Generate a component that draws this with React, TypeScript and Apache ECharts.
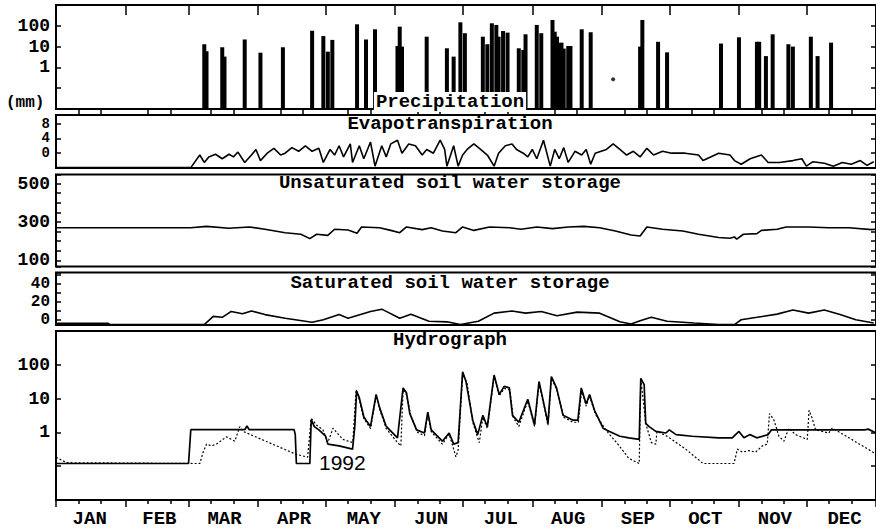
import React, { useEffect, useRef } from "react";
import * as echarts from "echarts";

// ---------- axis / category data ----------
const MONTHS = ["JAN", "FEB", "MAR", "APR", "MAY", "JUN", "JUL", "AUG", "SEP", "OCT", "NOV", "DEC"];
const MONTH_START = [0, 31, 59, 90, 120, 151, 181, 212, 243, 273, 304, 334];
const MONTH_LABEL_DAY = [15, 46, 75, 106, 137, 167, 198, 228, 259, 289, 320, 351];
const PRECIP_TICKS = [1, 10, 100];
const ET_TICKS = [0, 4, 8];
const UNSAT_TICKS = [100, 300, 500];
const SAT_TICKS = [0, 20, 40];
const HYDRO_TICKS = [1, 10, 100];
const TITLES = ["Precipitation", "Evapotranspiration", "Unsaturated soil water storage", "Saturated soil water storage", "Hydrograph"];

// ---------- series data: [day of year, value] ----------
const PRECIP: [number, number][] = [
  [66, 13], [67, 6], [74, 9.3], [75, 3.3], [84, 22], [91, 5.1], [101, 9.3], [114, 58], [119, 32], [121, 5.7],
  [123, 21], [134, 118], [138, 22], [142, 68], [152, 10.7], [153, 91], [154, 10], [165, 30], [174, 8.3], [177, 3.3],
  [180, 147], [182, 44], [190, 30], [192, 13], [194, 132], [196, 110], [197, 30], [199, 56], [201, 47], [206, 8.3],
  [208, 6.9], [209, 39], [214, 110], [216, 44], [221, 191], [222, 52], [223, 30], [224, 15], [225, 15.5], [226, 8],
  [228, 10.7], [229, 10.7], [234, 68], [238, 49], [260, 10], [261, 191], [268, 17], [272, 5.3], [296, 14], [304, 28],
  [312, 17], [313, 17], [316, 3.5], [319, 39], [326, 13], [328, 10], [336, 30], [339, 3.5], [345, 15.5],
];
const PRECIP_TRACE: [number, number][] = [[248, 0.27]];

const ET: [number, number][] = [
  [0, -3.9], [60, -3.9], [64, -0.5], [66, -2.5], [68, -1], [71, -0.3], [74, -1.5], [77, -0.3], [79, -1], [81, 0.3],
  [84, -2.5], [87, -0.5], [89, 1], [91, -2], [94, 0], [97, 1.3], [100, -0.5], [102, 0], [105, 1.5], [108, 0.5],
  [111, 2], [114, 0.5], [117, 1.3], [119, -2.5], [122, 1], [124, -0.5], [126, 2], [128, -1], [131, 2.5], [132, -2.5],
  [135, 2], [137, -1.5], [140, 3], [142, -3.5], [145, 2], [147, -1], [149, 2.5], [152, 3.5], [154, 0], [157, 2.5],
  [160, 2], [163, -0.5], [165, 1], [168, 0], [171, 3.5], [173, 1], [174, -3.5], [177, 2], [179, -3.5], [181, -0.5],
  [183, 1], [186, 2.5], [189, 1], [192, -0.5], [195, -3.5], [197, 0], [200, 2], [203, 2.5], [205, 1], [208, 0],
  [210, -1], [212, 1], [214, -1.5], [217, 3.5], [220, -3.5], [222, 1], [224, -1.5], [226, 1.5], [228, -2.5], [231, 0.5],
  [234, -0.5], [236, 1], [238, -3], [240, 0], [245, 1], [248, 2.5], [251, 1], [254, -0.5], [257, 0.5], [260, -1],
  [263, 1.3], [266, -0.5], [270, 0.5], [274, 0], [280, 0], [286, -0.5], [288, -2], [295, 0], [300, -0.5], [302, -2],
  [305, -3], [309, -1.5], [314, -0.5], [317, -2.5], [322, -2.5], [328, -2], [332, -1.5], [334, -3.5], [337, -2.3], [342, -2.7],
  [346, -3.5], [350, -2.5], [354, -3], [358, -2], [361, -3.3], [364, -2.3],
];

const UNSAT: [number, number][] = [
  [0, 270], [60, 270], [67, 277], [77, 267], [86, 274], [93, 262], [102, 244], [109, 236], [113, 213], [116, 236],
  [121, 230], [124, 262], [130, 258], [134, 241], [136, 274], [144, 270], [149, 256], [153, 244], [156, 274], [163, 260],
  [167, 270], [172, 253], [178, 244], [181, 274], [186, 256], [193, 274], [202, 270], [207, 262], [214, 274], [221, 265],
  [228, 274], [235, 277], [242, 270], [249, 253], [256, 232], [260, 227], [263, 274], [270, 262], [279, 253], [286, 236],
  [295, 219], [300, 215], [302, 222], [303, 210], [306, 236], [312, 239], [314, 256], [321, 262], [325, 274], [335, 274],
  [344, 270], [353, 270], [363, 260], [365, 262],
];

const SAT: [number, number][] = [
  [0, -3.5], [23, -3.5], [24, -5], [66, -5], [70, 4], [74, 3], [78, 9.5], [83, 7], [87, 10], [93, 6],
  [102, 2], [114, -2.5], [119, 0.3], [126, 6], [130, 2], [140, 9.5], [145, 12], [153, 2], [158, 6.5], [166, -1.4],
  [174, -2], [180, -5], [188, -1.4], [195, 7.6], [203, 10], [209, 7.6], [216, 9.5], [223, 4.7], [232, 8.7], [242, 7.6],
  [251, -2], [256, -4.4], [260, -0.7], [265, 3], [272, -1.4], [284, -3.3], [295, -5], [302, -5], [305, 0.3], [312, 3],
  [321, 6.5], [328, 11], [335, 7.6], [342, 11], [349, 6], [356, 0.3], [364, -3.3],
];

const Q_SIM: [number, number][] = [
  [0, 0.12], [59, 0.12], [60, 1.2], [84, 1.2], [85, 1.55], [86, 1.2], [106, 1.2], [106.5, 0.86], [107, 0.12], [113, 0.12],
  [113.6, 2.4], [115, 1.48], [117, 1.19], [120, 0.77], [121, 0.45], [126, 0.4], [132, 0.32], [133, 1.48], [133.8, 16.6], [135, 10.7],
  [137, 2.9], [138, 2.3], [140, 1.5], [142.5, 13.3], [144, 5.5], [147, 1.5], [152, 0.69], [154.5, 20.7], [156, 14.9], [157.5, 3.6],
  [160.5, 1.19], [164, 0.96], [165.5, 4.0], [167, 1.19], [172, 0.55], [175, 0.96], [177, 0.45], [179, 0.5], [181, 62], [182.5, 32],
  [185.5, 2.3], [187.7, 0.86], [190, 3.2], [192, 1.5], [195, 49.6], [197.3, 13.3], [199.5, 23], [201.8, 20.7], [203.2, 3.2], [206, 2],
  [210, 9.6], [213, 1.66], [215, 32], [217.5, 5.5], [219, 1.85], [220.5, 44.5], [222.8, 20.7], [225.7, 3.2], [230.2, 2.3], [232.3, 2.3],
  [233.8, 20.7], [236, 6.9], [237.5, 13.3], [239.7, 4.5], [243.5, 1.33], [246.4, 1.07], [251, 0.77], [255, 0.69], [259.6, 0.62], [260.3, 39.8],
  [261.8, 25.8], [262.5, 1.85], [264, 1.48], [267, 1.07], [271.5, 0.96], [273, 1.19], [276, 0.86], [283.2, 0.77], [295, 0.69], [301, 0.69],
  [304, 1.07], [306.2, 0.69], [308.9, 0.86], [311.9, 0.69], [317, 0.86], [318.5, 1.19], [360, 1.19], [361.5, 1.25], [365, 0.96],
];

const Q_OBS: [number, number][] = [
  [0, 0.185], [4.7, 0.127], [64, 0.12], [65.5, 0.26], [67, 0.45], [69.2, 0.4], [71.4, 0.45], [75.9, 0.74], [79.6, 0.55], [81.8, 1.48],
  [83.3, 1.07], [106.5, 0.23], [112, 0.185], [113.6, 2.6], [115.9, 1.66], [118.8, 1.19], [121, 0.5], [123.3, 1.33], [127.7, 0.62], [132.1, 0.5],
  [133.6, 18.5], [135, 9], [137, 2.6], [140, 1.3], [142.5, 12], [144, 5], [147, 1.3], [152, 0.5], [153.5, 0.4], [154.5, 18],
  [156, 13], [158, 3], [161, 1.0], [164, 0.8], [165.5, 3.6], [167, 1.05], [172, 0.45], [175, 0.9], [178, 0.19], [179, 0.3],
  [181, 55], [183, 28], [185.5, 2.0], [188.4, 0.5], [190, 2.8], [192, 1.3], [195, 45], [197.3, 12], [199.5, 20], [202, 18],
  [203.5, 2.8], [206, 1.5], [210, 8.5], [213, 1.5], [215, 28], [217.5, 5], [219, 1.6], [220.5, 40], [223, 18], [226, 2.8],
  [230, 2.0], [232.5, 2.0], [234, 18], [236, 6], [237.5, 12], [240, 3.6], [244.7, 1.19], [250.7, 0.4], [255, 0.17], [259.6, 0.12],
  [260.3, 39.8], [262.5, 1.85], [265, 0.5], [267, 0.45], [267.5, 1.07], [272, 0.77], [280.3, 0.32], [288, 0.12], [301.8, 0.12], [303.3, 0.32],
  [305.5, 0.26], [308.4, 0.29], [311.4, 0.26], [314.4, 0.4], [316.6, 0.45], [317.6, 3.6], [319.6, 2.3], [321.8, 0.77], [324, 0.55], [326.2, 1.33],
  [329.2, 0.86], [334.4, 0.62], [335.2, 4.5], [336.6, 2.6], [338.1, 1.19], [344, 0.96], [345.5, 1.33], [347, 1.19], [365, 0.23],
];

// ---------- helpers ----------
const FONT = "Liberation Mono";
const GRIDS = [
  { top: 5, height: 104 },
  { top: 115, height: 53 },
  { top: 174.5, height: 92 },
  { top: 272.5, height: 52.5 },
  { top: 331, height: 170 },
];
const TITLE_Y = [102, 124, 182.5, 283, 340];

function pick(v: number, ticks: number[]) {
  const t = ticks.find((k) => Math.abs(k - v) < 1e-6 * Math.max(1, Math.abs(k)));
  return t === undefined ? "" : String(t);
}
const log2axis = (v: number) => Math.log10(v) + 2;

export default function App() {
  const ref = useRef<HTMLDivElement>(null);
  useEffect(() => {
    if (!ref.current) return;
    const chart = echarts.init(ref.current, undefined, { renderer: "svg" });
    const DAYS = Array.from({ length: 366 }, (_, i) => String(i));
    const major = new Set<number>([...MONTH_START, 365]);
    const minor = new Set<number>();
    MONTH_START.forEach((m) => { minor.add(m + 10); minor.add(m + 20); });

    const labelStyle = { color: "#000", fontFamily: FONT, fontWeight: "bold" as const, fontSize: 18, lineHeight: 14, margin: 6 };
    const yCommon = (gi: number, pos: "left" | "right") => ({
      gridIndex: gi,
      position: pos,
      axisLine: { show: false },
      splitLine: { show: false },
      axisTick: { show: true, inside: true, length: 5, lineStyle: { color: "#000", width: 1.5 } },
    });
    const leftY: any[] = [
      { ...yCommon(0, "left"), type: "value", min: 0, max: 5, interval: 1,
        axisLabel: { ...labelStyle, formatter: (v: number) => pick(Math.pow(10, v - 2), PRECIP_TICKS) } },
      { ...yCommon(1, "left"), type: "value", min: -4, max: 10.3, interval: 4,
        axisLabel: { ...labelStyle, fontSize: 14, lineHeight: 13, formatter: (v: number) => pick(v, ET_TICKS) } },
      { ...yCommon(2, "left"), type: "value", min: 68, max: 547, splitNumber: 10,
        axisLabel: { ...labelStyle, formatter: (v: number) => pick(v, UNSAT_TICKS) } },
      { ...yCommon(3, "left"), type: "value", min: -5.5, max: 52.5, splitNumber: 6,
        axisLabel: { ...labelStyle, fontSize: 16, lineHeight: 13, formatter: (v: number) => pick(v, SAT_TICKS) } },
      { ...yCommon(4, "left"), type: "log", logBase: 10, min: 0.01, max: 1000,
        axisLabel: { ...labelStyle, formatter: (v: number) => pick(v, HYDRO_TICKS) } },
    ];
    const rightY = leftY.map((a, i) => ({ ...a, ...yCommon(i, "right"), axisLabel: { show: false } }));

    const valueX = GRIDS.map((_, i) => ({ gridIndex: i, type: "value", min: 0, max: 365, show: false }));
    const catX = (gi: number, pos: "top" | "bottom", set: Set<number>, len: number, inside: boolean, labels: boolean) => ({
      gridIndex: gi,
      type: "category",
      position: pos,
      boundaryGap: false,
      data: DAYS,
      axisLine: { show: false },
      splitLine: { show: false },
      axisTick: { show: true, inside, length: len, interval: (i: number) => set.has(i), lineStyle: { color: "#000", width: 1.5 } },
      axisLabel: labels
        ? {
            show: true,
            color: "#000",
            fontFamily: FONT,
            fontWeight: "bold",
            fontSize: 19,
            margin: 9,
            interval: (i: number) => MONTH_LABEL_DAY.includes(i),
            formatter: (v: string) => {
              const k = MONTH_LABEL_DAY.indexOf(Number(v));
              return k >= 0 ? MONTHS[k] : "";
            },
          }
        : { show: false },
    });

    const lineS = (name: string, gi: number, data: [number, number][], width: number, dashed = false) => ({
      name,
      type: "line",
      xAxisIndex: gi,
      yAxisIndex: gi,
      data,
      showSymbol: false,
      symbol: "none",
      clip: true,
      lineStyle: { color: "#000", width, type: dashed ? [2, 2] : "solid" },
      z: dashed ? 3 : 4,
    });

    const graphics: any[] = TITLES.map((t, i) => ({
      type: "text",
      x: 450,
      y: TITLE_Y[i],
      z: 100,
      style: {
        text: t,
        font: `bold 19px "${FONT}"`,
        fill: "#000",
        align: "center",
        verticalAlign: "middle",
        textAlign: "center",
        textVerticalAlign: "middle",
        backgroundColor: i === 0 ? "#fff" : undefined,
        padding: i === 0 ? [1, 2, 0, 2] : undefined,
      },
    }));
    graphics.push({
      type: "text", x: 6, y: 103, z: 100,
      style: { text: "(mm)", font: `bold 16px "${FONT}"`, fill: "#000", verticalAlign: "middle", textVerticalAlign: "middle" },
    });
    graphics.push({
      type: "text", x: 319, y: 462, z: 100,
      style: { text: "1992", font: `21px "Liberation Sans"`, fill: "#000", verticalAlign: "middle", textVerticalAlign: "middle" },
    });

    chart.setOption({
      animation: false,
      backgroundColor: "#fff",
      grid: GRIDS.map((g) => ({
        left: 56, width: 820, top: g.top, height: g.height,
        show: true, borderColor: "#000", borderWidth: 2, backgroundColor: "transparent",
      })),
      xAxis: [
        ...valueX,
        catX(0, "top", minor, 5, true, false),
        catX(0, "top", major, 10, true, false),
        catX(4, "bottom", minor, 4, false, true),
        catX(4, "bottom", major, 7, false, false),
      ],
      yAxis: [...leftY, ...rightY],
      graphic: graphics,
      series: [
        {
          name: "Precipitation",
          type: "bar",
          xAxisIndex: 0,
          yAxisIndex: 0,
          barWidth: 4,
          itemStyle: { color: "#000" },
          data: PRECIP.map(([d, v]) => [d, log2axis(v)]),
        },
        {
          name: "Precipitation trace",
          type: "scatter",
          xAxisIndex: 0,
          yAxisIndex: 0,
          symbolSize: 4,
          itemStyle: { color: "#000" },
          data: PRECIP_TRACE.map(([d, v]) => [d, log2axis(v)]),
        },
        lineS("Evapotranspiration", 1, ET, 1.6),
        lineS("Unsaturated soil water storage", 2, UNSAT, 1.6),
        lineS("Saturated soil water storage", 3, SAT, 1.6),
        lineS("Observed", 4, Q_OBS, 1.2, true),
        lineS("Simulated", 4, Q_SIM, 1.7),
      ],
    });
    return () => chart.dispose();
  }, []);
  return <div ref={ref} style={{ position: "fixed", left: 0, top: 0, width: 876, height: 528, background: "#fff" }} />;
}
